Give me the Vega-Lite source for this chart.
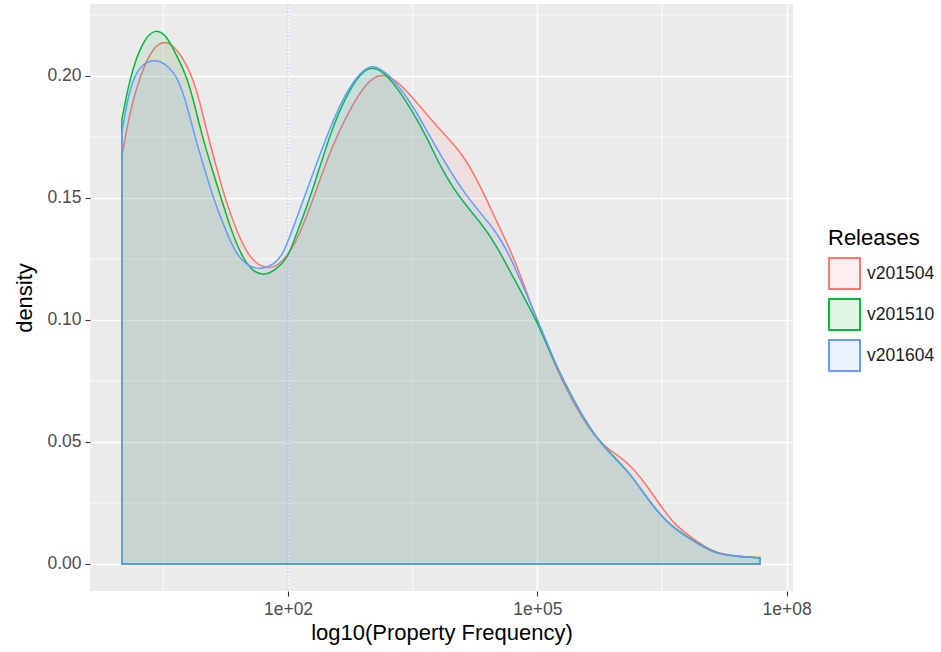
{
  "$schema": "https://vega.github.io/schema/vega-lite/v6.json",
  "width": 703,
  "height": 587,
  "autosize": {"type": "none"},
  "padding": {"left": 90, "top": 4, "right": 148, "bottom": 61},
  "background": "white",
  "config": {
    "view": {"fill": "#EBEBEB", "stroke": null},
    "font": "Liberation Sans",
    "axis": {
      "domain": false,
      "gridColor": "white",
      "gridWidth": 1.5,
      "tickColor": "#333333",
      "tickSize": 5,
      "tickWidth": 1.1,
      "labelColor": "#4D4D4D",
      "labelFontSize": 17.5,
      "labelPadding": 4,
      "titleColor": "black",
      "titleFontSize": 22,
      "titleFontWeight": "normal"
    }
  },
  "datasets": {
    "dens": [
      {"release": "v201504", "L": 0, "d": 0.167},
      {"release": "v201504", "L": 0.1, "d": 0.186},
      {"release": "v201504", "L": 0.22, "d": 0.2},
      {"release": "v201504", "L": 0.35, "d": 0.2105},
      {"release": "v201504", "L": 0.51, "d": 0.2152},
      {"release": "v201504", "L": 0.68, "d": 0.2108},
      {"release": "v201504", "L": 0.85, "d": 0.2},
      {"release": "v201504", "L": 0.95, "d": 0.188},
      {"release": "v201504", "L": 1.04, "d": 0.175},
      {"release": "v201504", "L": 1.14, "d": 0.1625},
      {"release": "v201504", "L": 1.24, "d": 0.15},
      {"release": "v201504", "L": 1.38, "d": 0.1365},
      {"release": "v201504", "L": 1.52, "d": 0.1265},
      {"release": "v201504", "L": 1.65, "d": 0.1222},
      {"release": "v201504", "L": 1.8, "d": 0.121},
      {"release": "v201504", "L": 1.92, "d": 0.1235},
      {"release": "v201504", "L": 2.08, "d": 0.13},
      {"release": "v201504", "L": 2.3, "d": 0.149},
      {"release": "v201504", "L": 2.505, "d": 0.1694},
      {"release": "v201504", "L": 2.75, "d": 0.187},
      {"release": "v201504", "L": 2.95, "d": 0.1975},
      {"release": "v201504", "L": 3.107, "d": 0.2012},
      {"release": "v201504", "L": 3.3, "d": 0.1985},
      {"release": "v201504", "L": 3.49, "d": 0.1915},
      {"release": "v201504", "L": 3.7, "d": 0.183},
      {"release": "v201504", "L": 3.91, "d": 0.175},
      {"release": "v201504", "L": 4.11, "d": 0.1676},
      {"release": "v201504", "L": 4.31, "d": 0.1553},
      {"release": "v201504", "L": 4.51, "d": 0.1404},
      {"release": "v201504", "L": 4.73, "d": 0.125},
      {"release": "v201504", "L": 4.99, "d": 0.1},
      {"release": "v201504", "L": 5.15, "d": 0.087},
      {"release": "v201504", "L": 5.31, "d": 0.074},
      {"release": "v201504", "L": 5.55, "d": 0.059},
      {"release": "v201504", "L": 5.77, "d": 0.049},
      {"release": "v201504", "L": 5.95, "d": 0.045},
      {"release": "v201504", "L": 6.12, "d": 0.0406},
      {"release": "v201504", "L": 6.3, "d": 0.033},
      {"release": "v201504", "L": 6.44, "d": 0.026},
      {"release": "v201504", "L": 6.65, "d": 0.016},
      {"release": "v201504", "L": 6.87, "d": 0.0105},
      {"release": "v201504", "L": 7.12, "d": 0.0046},
      {"release": "v201504", "L": 7.4, "d": 0.0031},
      {"release": "v201504", "L": 7.68, "d": 0.0027},

      {"release": "v201510", "L": 0, "d": 0.182},
      {"release": "v201510", "L": 0.1, "d": 0.2},
      {"release": "v201510", "L": 0.25, "d": 0.2145},
      {"release": "v201510", "L": 0.408, "d": 0.2198},
      {"release": "v201510", "L": 0.55, "d": 0.216},
      {"release": "v201510", "L": 0.65, "d": 0.209},
      {"release": "v201510", "L": 0.78, "d": 0.2},
      {"release": "v201510", "L": 0.87, "d": 0.189},
      {"release": "v201510", "L": 0.969, "d": 0.175},
      {"release": "v201510", "L": 1.08, "d": 0.1625},
      {"release": "v201510", "L": 1.194, "d": 0.15},
      {"release": "v201510", "L": 1.31, "d": 0.1375},
      {"release": "v201510", "L": 1.434, "d": 0.1265},
      {"release": "v201510", "L": 1.58, "d": 0.1195},
      {"release": "v201510", "L": 1.723, "d": 0.1182},
      {"release": "v201510", "L": 1.85, "d": 0.1205},
      {"release": "v201510", "L": 2.0, "d": 0.1255},
      {"release": "v201510", "L": 2.08, "d": 0.1335},
      {"release": "v201510", "L": 2.28, "d": 0.151},
      {"release": "v201510", "L": 2.505, "d": 0.1766},
      {"release": "v201510", "L": 2.7, "d": 0.192},
      {"release": "v201510", "L": 2.87, "d": 0.201},
      {"release": "v201510", "L": 3.007, "d": 0.2043},
      {"release": "v201510", "L": 3.2, "d": 0.2008},
      {"release": "v201510", "L": 3.49, "d": 0.1862},
      {"release": "v201510", "L": 3.67, "d": 0.175},
      {"release": "v201510", "L": 3.83, "d": 0.163},
      {"release": "v201510", "L": 4.05, "d": 0.1505},
      {"release": "v201510", "L": 4.31, "d": 0.1404},
      {"release": "v201510", "L": 4.51, "d": 0.1305},
      {"release": "v201510", "L": 4.67, "d": 0.12},
      {"release": "v201510", "L": 4.99, "d": 0.1},
      {"release": "v201510", "L": 5.15, "d": 0.087},
      {"release": "v201510", "L": 5.31, "d": 0.0755},
      {"release": "v201510", "L": 5.55, "d": 0.06},
      {"release": "v201510", "L": 5.75, "d": 0.05},
      {"release": "v201510", "L": 5.95, "d": 0.043},
      {"release": "v201510", "L": 6.12, "d": 0.037},
      {"release": "v201510", "L": 6.36, "d": 0.025},
      {"release": "v201510", "L": 6.6, "d": 0.0155},
      {"release": "v201510", "L": 6.87, "d": 0.0097},
      {"release": "v201510", "L": 7.12, "d": 0.0044},
      {"release": "v201510", "L": 7.4, "d": 0.003},
      {"release": "v201510", "L": 7.68, "d": 0.0025},

      {"release": "v201604", "L": 0, "d": 0.1765},
      {"release": "v201604", "L": 0.07, "d": 0.191},
      {"release": "v201604", "L": 0.15, "d": 0.2},
      {"release": "v201604", "L": 0.25, "d": 0.205},
      {"release": "v201604", "L": 0.4, "d": 0.207},
      {"release": "v201604", "L": 0.55, "d": 0.2045},
      {"release": "v201604", "L": 0.68, "d": 0.199},
      {"release": "v201604", "L": 0.78, "d": 0.1885},
      {"release": "v201604", "L": 0.88, "d": 0.175},
      {"release": "v201604", "L": 0.99, "d": 0.1625},
      {"release": "v201604", "L": 1.1, "d": 0.15},
      {"release": "v201604", "L": 1.24, "d": 0.1375},
      {"release": "v201604", "L": 1.38, "d": 0.1265},
      {"release": "v201604", "L": 1.53, "d": 0.1218},
      {"release": "v201604", "L": 1.68, "d": 0.1207},
      {"release": "v201604", "L": 1.82, "d": 0.1225},
      {"release": "v201604", "L": 1.94, "d": 0.1265},
      {"release": "v201604", "L": 2.08, "d": 0.1395},
      {"release": "v201604", "L": 2.3, "d": 0.16},
      {"release": "v201604", "L": 2.505, "d": 0.179},
      {"release": "v201604", "L": 2.7, "d": 0.1935},
      {"release": "v201604", "L": 2.87, "d": 0.2015},
      {"release": "v201604", "L": 3.007, "d": 0.205},
      {"release": "v201604", "L": 3.2, "d": 0.2015},
      {"release": "v201604", "L": 3.49, "d": 0.1888},
      {"release": "v201604", "L": 3.71, "d": 0.175},
      {"release": "v201604", "L": 3.83, "d": 0.168},
      {"release": "v201604", "L": 4.15, "d": 0.15},
      {"release": "v201604", "L": 4.51, "d": 0.1366},
      {"release": "v201604", "L": 4.69, "d": 0.125},
      {"release": "v201604", "L": 4.99, "d": 0.101},
      {"release": "v201604", "L": 5.15, "d": 0.088},
      {"release": "v201604", "L": 5.31, "d": 0.075},
      {"release": "v201604", "L": 5.55, "d": 0.06},
      {"release": "v201604", "L": 5.75, "d": 0.05},
      {"release": "v201604", "L": 5.95, "d": 0.0425},
      {"release": "v201604", "L": 6.12, "d": 0.037},
      {"release": "v201604", "L": 6.36, "d": 0.025},
      {"release": "v201604", "L": 6.6, "d": 0.0155},
      {"release": "v201604", "L": 6.87, "d": 0.0095},
      {"release": "v201604", "L": 7.12, "d": 0.0043},
      {"release": "v201604", "L": 7.4, "d": 0.003},
      {"release": "v201604", "L": 7.68, "d": 0.0025}
    ],
    "minorx": [{"L": 0.5}, {"L": 3.5}, {"L": 6.5}],
    "minory": [{"d": 0.025}, {"d": 0.075}, {"d": 0.125}, {"d": 0.175}, {"d": 0.225}],
    "vline": [{"L": 2}]
  },
  "encoding": {
    "x": {
      "field": "L", "type": "quantitative",
      "scale": {"domain": [-0.383, 8.077], "nice": false, "zero": false},
      "axis": {"title": "log10(Property Frequency)", "values": [2, 5, 8], "labelExpr": "'1e+0' + datum.value", "titlePadding": 5}
    }
  },
  "layer": [
    {
      "data": {"name": "minorx"},
      "mark": {"type": "rule", "color": "white", "strokeWidth": 0.8}
    },
    {
      "data": {"name": "minory"},
      "mark": {"type": "rule", "color": "white", "strokeWidth": 0.8},
      "encoding": {
        "x": {"value": 0},
        "x2": {"value": 703},
        "y": {
          "field": "d", "type": "quantitative",
          "scale": {"domain": [-0.01107, 0.2295], "nice": false, "zero": false},
          "axis": {"title": "density", "values": [0, 0.05, 0.1, 0.15, 0.2], "format": ".2f", "titlePadding": 10}
        }
      }
    },
    {
      "data": {"name": "vline"},
      "mark": {"type": "rule", "color": "#A9A9F5", "strokeWidth": 1, "strokeDash": [1.5, 2]}
    },
    {
      "data": {"name": "dens"},
      "mark": {"type": "area", "interpolate": "basis", "fillOpacity": 0.1, "strokeWidth": 1.5, "strokeOpacity": 1},
      "encoding": {
        "y": {
          "field": "d", "type": "quantitative", "stack": null,
          "scale": {"domain": [-0.01107, 0.2295], "nice": false, "zero": false},
          "axis": {"title": "density", "values": [0, 0.05, 0.1, 0.15, 0.2], "format": ".2f", "titlePadding": 10}
        },
        "fill": {
          "field": "release", "type": "nominal",
          "scale": {"domain": ["v201504", "v201510", "v201604"], "range": ["#F8766D", "#00BA38", "#619CFF"]},
          "legend": {
            "title": "Releases",
            "orient": "none",
            "legendX": 738,
            "legendY": 224,
            "symbolType": "square",
            "symbolSize": 961,
            "symbolStrokeWidth": 2,
            "rowPadding": 2,
            "labelOffset": 6,
            "labelFontSize": 17.5,
            "labelColor": "#1A1A1A",
            "titleFontSize": 22,
            "titleFontWeight": "normal",
            "titleColor": "black",
            "titlePadding": 7,
            "encode": {"symbols": {"update": {"fillOpacity": {"value": 0.12}, "strokeOpacity": {"value": 1}}}}
          }
        },
        "stroke": {
          "field": "release", "type": "nominal",
          "scale": {"domain": ["v201504", "v201510", "v201604"], "range": ["#F8766D", "#00BA38", "#619CFF"]},
          "legend": {
            "title": "Releases",
            "orient": "none",
            "legendX": 738,
            "legendY": 224,
            "symbolType": "square",
            "symbolSize": 961,
            "symbolStrokeWidth": 2,
            "rowPadding": 2,
            "labelOffset": 6,
            "labelFontSize": 17.5,
            "labelColor": "#1A1A1A",
            "titleFontSize": 22,
            "titleFontWeight": "normal",
            "titleColor": "black",
            "titlePadding": 7,
            "encode": {"symbols": {"update": {"fillOpacity": {"value": 0.12}, "strokeOpacity": {"value": 1}}}}
          }
        }
      }
    }
  ]
}
